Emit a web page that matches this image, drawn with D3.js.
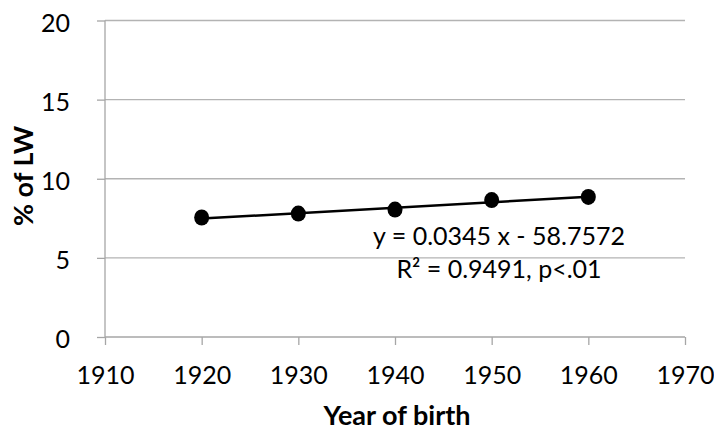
<!DOCTYPE html>
<html><head><meta charset="utf-8">
<script src="https://cdnjs.cloudflare.com/ajax/libs/d3/7.8.5/d3.min.js"></script>
<style>body{margin:0;background:#fff}svg{display:block}text{font-family:Lato,"Open Sans",sans-serif}</style>
</head><body><svg id="c" width="714" height="433"></svg>
<script>
const years = [1920, 1930, 1940, 1950, 1960];
const values = [7.55, 7.8, 8.05, 8.65, 8.85];
const xTicks = [1910, 1920, 1930, 1940, 1950, 1960, 1970];
const yTicks = [0, 5, 10, 15, 20];
const trendCoef = [0.0345, -58.7572];
const equationLines = ["y = 0.0345 x - 58.7572", "R² = 0.9491, p<.01"];
const xTitle = "Year of birth";
const yTitle = "% of LW";

const svg = d3.select("#c");
const x = d3.scaleLinear().domain([1910, 1970]).range([105, 685]);
const y = d3.scaleLinear().domain([0, 20]).range([337, 20.5]);

// gridlines
svg.append("g").selectAll("line").data(yTicks.filter(d => d > 0)).join("line")
  .attr("x1", x(1910)).attr("x2", x(1970))
  .attr("y1", d => y(d)).attr("y2", d => y(d))
  .attr("stroke", "#b3b3b3").attr("stroke-width", 1.3);

const yAxis = svg.append("g").attr("transform", `translate(${x(1910)},0)`)
  .call(d3.axisLeft(y).tickValues(yTicks).tickSize(8).tickPadding(27));
const xAxis = svg.append("g").attr("transform", `translate(0,${y(0)})`)
  .call(d3.axisBottom(x).tickValues(xTicks).tickFormat(d3.format("d")).tickSize(8).tickPadding(21));
[yAxis, xAxis].forEach(g => {
  g.select(".domain").attr("stroke", "#a6a6a6").attr("stroke-width", 1.3);
  g.selectAll(".tick line").attr("stroke", "#a6a6a6").attr("stroke-width", 1.3);
  g.selectAll("text").attr("fill", "#000").style("font-size", "25px").style("font-family", "Lato, sans-serif");
});
yAxis.selectAll("text").attr("dy", "0.42em");
yAxis.select(".domain").attr("d", `M0,${y(20)}V${y(0)}`);
xAxis.select(".domain").attr("d", `M${x(1910)},0H${x(1970)}`);

// trendline
const f = v => trendCoef[0] * v + trendCoef[1];
svg.append("line")
  .attr("x1", x(years[0])).attr("y1", y(f(years[0])))
  .attr("x2", x(years[years.length - 1])).attr("y2", y(f(years[years.length - 1])))
  .attr("stroke", "#000").attr("stroke-width", 2.5);

// markers
svg.append("g").selectAll("ellipse").data(years).join("ellipse")
  .attr("cx", d => x(d)).attr("cy", (d, i) => y(values[i]))
  .attr("rx", 7.5).attr("ry", 8).attr("fill", "#000");

// equation
svg.append("g").selectAll("text").data(equationLines).join("text")
  .attr("x", 499).attr("y", (d, i) => 245 + i * 33)
  .attr("text-anchor", "middle").style("font-size", "25px").attr("fill", "#000")
  .text(d => d);

svg.append("text").attr("x", 397).attr("y", 425)
  .attr("text-anchor", "middle").style("font-size", "27px").style("font-weight", "bold").text(xTitle);
svg.append("text").attr("transform", `translate(33,176) rotate(-90)`)
  .attr("text-anchor", "middle").style("font-size", "27px").style("font-weight", "bold").text(yTitle);
</script></body></html>
